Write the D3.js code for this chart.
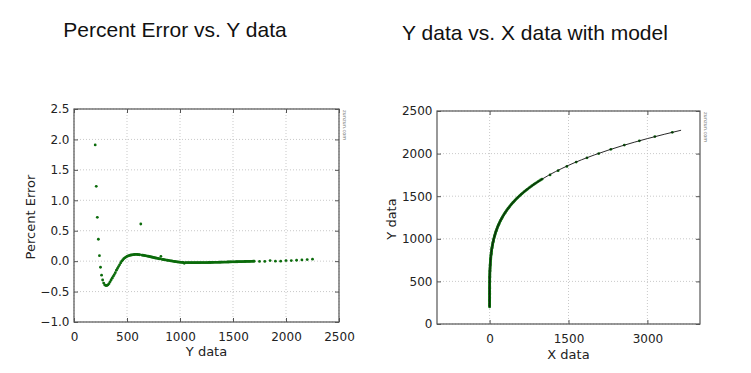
<!DOCTYPE html>
<html>
<head>
<meta charset="utf-8">
<script src="https://cdn.jsdelivr.net/npm/d3@7"></script>
<style>
html,body{margin:0;padding:0;background:#fff;}
svg{display:block;}
</style>
</head>
<body>
<svg id="chart" width="751" height="373"></svg>
<script>
// ---------- data ----------
const yData = [200,210,220,230,240,250,260,270,280,290,300,310,320,330,340,350,360,370,380,390,
400,410,420,430,440,450,460,470,480,490,500,510,520,530,540,550,560,570,580,590,
600,610,620,630,640,650,660,670,680,690,700,710,720,730,740,750,760,770,780,790,
800,810,820,830,840,850,860,870,880,890,900,910,920,930,940,950,960,970,980,990,
1000,1010,1020,1030,1040,1050,1060,1070,1080,1090,1100,1110,1120,1130,1140,1150,1160,1170,1180,1190,
1200,1210,1220,1230,1240,1250,1260,1270,1280,1290,1300,1310,1320,1330,1340,1350,1360,1370,1380,1390,
1400,1410,1420,1430,1440,1450,1460,1470,1480,1490,1500,1510,1520,1530,1540,1550,1560,1570,1580,1590,
1600,1610,1620,1630,1640,1650,1660,1670,1680,1690,1700,
1750,1800,1850,1900,1950,2000,2050,2100,2150,2200,2250];

const percentError = [1.91,1.23,0.72,0.36,0.09,-0.10,-0.23,-0.31,-0.36,-0.39,-0.40,-0.40,-0.39,-0.37,-0.34,-0.31,-0.28,-0.25,-0.22,-0.19,
-0.15,-0.12,-0.09,-0.06,-0.03,0.00,0.02,0.04,0.055,0.067,0.077,0.085,0.092,0.097,0.101,0.104,0.107,0.109,0.110,0.110,
0.109,0.107,0.105,0.61,0.100,0.097,0.094,0.090,0.087,0.083,0.080,0.076,0.072,0.068,0.064,0.060,0.056,0.052,0.048,0.044,
0.040,0.036,0.078,0.030,0.027,0.024,0.021,0.018,0.015,0.012,0.009,0.006,0.003,0.000,-0.003,-0.006,-0.009,-0.012,-0.014,-0.016,
-0.018,-0.020,-0.021,-0.022,-0.035,-0.024,-0.024,-0.025,-0.025,-0.025,-0.025,-0.025,-0.025,-0.025,-0.025,-0.025,-0.025,-0.025,-0.025,-0.025,
-0.024,-0.024,-0.024,-0.024,-0.023,-0.023,-0.023,-0.022,-0.022,-0.022,-0.021,-0.021,-0.020,-0.020,-0.020,-0.019,-0.019,-0.018,-0.018,-0.017,
-0.017,-0.016,-0.016,-0.015,-0.015,-0.014,-0.014,-0.013,-0.013,-0.012,-0.012,-0.011,-0.011,-0.010,-0.010,-0.009,-0.009,-0.008,-0.008,-0.007,
-0.007,-0.006,-0.006,-0.005,-0.005,-0.004,-0.004,-0.003,-0.003,-0.002,-0.002,
-0.005,-0.005,0.010,0.000,0.000,0.010,0.010,0.015,0.020,0.025,0.033];

const xData = [0,0,0,0,0,0,0,0,0,0,0.01,0.01,0.02,0.03,0.05,0.1,0.13,0.16,0.21,0.26,
0.32,0.38,0.46,0.55,0.65,0.77,0.9,1.05,1.21,1.39,1.59,1.82,2.06,2.33,2.63,2.95,3.31,3.69,4.1,4.55,
5.04,5.56,6.12,6.73,7.37,8.07,8.81,9.6,10.45,11.34,12.3,13.31,14.39,15.53,16.73,18.0,19.35,20.77,22.27,23.84,
25.5,27.24,29.08,31.0,33.01,35.13,37.34,39.65,42.07,44.6,47.24,50.0,52.88,55.88,59.0,62.26,65.64,69.17,72.83,76.64,
80.6,84.7,88.97,93.38,97.97,102.7,107.6,112.7,118.0,123.5,129.1,134.9,141.0,147.2,153.6,160.3,167.1,174.2,181.5,189.0,
196.8,204.8,213.0,221.5,230.2,239.2,248.4,257.9,267.7,277.8,288.1,298.7,309.6,320.8,332.3,344.1,356.3,368.7,381.5,394.6,
408.0,421.8,435.9,450.4,465.2,480.4,496.0,511.9,528.2,544.9,562.0,579.5,597.4,615.7,634.4,653.6,673.1,693.2,713.6,734.5,
755.9,777.7,800.0,822.8,846.1,869.8,894.1,918.8,944.1,969.8,996.1,
1149,1303,1469,1647,1852,2075,2305,2561,2848,3142,3473];

const modelX = [0,0.01,0.1,1,5,20,50,100,200,300,500,750,1000,1500,2000,2500,3000,3640];
const modelY = [200,284,350,467,599,765,910,1044,1204,1311,1463,1597,1701,1862,1986,2088,2176,2274];

const leftXTicks = [0,500,1000,1500,2000,2500];
const leftYTicks = [-1.0,-0.5,0.0,0.5,1.0,1.5,2.0,2.5];
const rightXTicks = [0,1500,3000];
const rightYTicks = [0,500,1000,1500,2000,2500];

// ---------- drawing ----------
const svg = d3.select("#chart");
const tickFont = "'DejaVu Sans', sans-serif";
const titleFont = "'Liberation Sans', Arial, sans-serif";
const axisColor = "#555";
const gridColor = "#bbb";
const dotColor = "#0b6b0b";

function panel(cfg) {
  const g = svg.append("g");
  const x = d3.scaleLinear().domain(cfg.xDomain).range([cfg.left, cfg.right]);
  const y = d3.scaleLinear().domain(cfg.yDomain).range([cfg.bottom, cfg.top]);

  g.append("g").selectAll("line").data(cfg.xTicks).join("line")
    .attr("x1", d => x(d)).attr("x2", d => x(d))
    .attr("y1", cfg.top).attr("y2", cfg.bottom)
    .attr("stroke", gridColor).attr("stroke-width", 0.8).attr("stroke-dasharray", "1,2");
  g.append("g").selectAll("line").data(cfg.yTicks).join("line")
    .attr("y1", d => y(d)).attr("y2", d => y(d))
    .attr("x1", cfg.left).attr("x2", cfg.right)
    .attr("stroke", gridColor).attr("stroke-width", 0.8).attr("stroke-dasharray", "1,2");

  const xAxis = d3.axisBottom(x).tickValues(cfg.xTicks).tickSize(-4).tickPadding(10).tickFormat(cfg.xFormat);
  const yAxis = d3.axisLeft(y).tickValues(cfg.yTicks).tickSize(-4).tickPadding(4.5).tickFormat(cfg.yFormat);
  const xTop = d3.axisTop(x).tickValues(cfg.xTicks).tickSize(-4).tickFormat("");
  const yRight = d3.axisRight(y).tickValues(cfg.yTicks).tickSize(-4).tickFormat("");

  const gx = g.append("g").attr("transform", `translate(0,${cfg.bottom})`).call(xAxis);
  const gy = g.append("g").attr("transform", `translate(${cfg.left},0)`).call(yAxis);
  const gxt = g.append("g").attr("transform", `translate(0,${cfg.top})`).call(xTop);
  const gyr = g.append("g").attr("transform", `translate(${cfg.right},0)`).call(yRight);
  [gx, gy, gxt, gyr].forEach(a => {
    a.select(".domain").remove();
    a.selectAll(".tick line").attr("stroke", axisColor).attr("stroke-width", 1);
    a.selectAll("text").attr("font-family", tickFont).attr("font-size", 12).attr("fill", "#222");
  });

  g.append("rect").attr("x", cfg.left).attr("y", cfg.top)
    .attr("width", cfg.right - cfg.left).attr("height", cfg.bottom - cfg.top)
    .attr("fill", "none").attr("stroke", axisColor).attr("stroke-width", 1.2);

  g.append("text").attr("x", (cfg.left + cfg.right) / 2).attr("y", cfg.xLabelY)
    .attr("text-anchor", "middle").attr("font-family", tickFont).attr("font-size", 13).attr("fill", "#222")
    .text(cfg.xLabel);
  g.append("text").attr("transform", `translate(${cfg.yLabelX},${(cfg.top + cfg.bottom) / 2 + 1.5}) rotate(-90)`)
    .attr("text-anchor", "middle").attr("font-family", tickFont).attr("font-size", 13).attr("fill", "#222")
    .text(cfg.yLabel);
  g.append("text").attr("x", cfg.titleX).attr("y", cfg.titleY)
    .attr("text-anchor", "middle").attr("font-family", titleFont).attr("font-size", 21).attr("fill", "#111")
    .text(cfg.title);
  g.append("text").attr("transform", `translate(${cfg.right + 4},${cfg.top + 1}) rotate(90)`)
    .attr("font-family", tickFont).attr("font-size", 5).attr("fill", "#777")
    .text("zunzun.com");
  return {g, x, y};
}

const L = panel({
  left: 74, right: 339, top: 109, bottom: 322,
  xDomain: [0, 2500], yDomain: [-1.0, 2.5],
  xTicks: leftXTicks, yTicks: leftYTicks,
  xFormat: d3.format("d"), yFormat: d3.format(".1f"),
  xLabel: "Y data", yLabel: "Percent Error",
  xLabelY: 355.5, yLabelX: 35,
  title: "Percent Error vs. Y data", titleX: 175, titleY: 37
});
L.g.append("g").selectAll("circle").data(yData.map((v, i) => [v, percentError[i]])).join("circle")
  .attr("cx", d => L.x(d[0])).attr("cy", d => L.y(d[1])).attr("r", 1.4).attr("fill", dotColor);

const R = panel({
  left: 437, right: 700, top: 111, bottom: 324,
  xDomain: [-1000, 4000], yDomain: [0, 2500],
  xTicks: rightXTicks, yTicks: rightYTicks,
  xFormat: d3.format("d"), yFormat: d3.format("d"),
  xLabel: "X data", yLabel: "Y data",
  xLabelY: 359, yLabelX: 396,
  title: "Y data vs. X data with model", titleX: 535, titleY: 40
});
R.g.append("g").selectAll("circle").data(xData.map((v, i) => [v, yData[i]])).join("circle")
  .attr("cx", d => R.x(d[0])).attr("cy", d => R.y(d[1])).attr("r", 1.4).attr("fill", dotColor);
R.g.append("path").datum(modelX.map((v, i) => [v, modelY[i]]))
  .attr("d", d3.line().x(d => R.x(d[0])).y(d => R.y(d[1])).curve(d3.curveMonotoneX))
  .attr("fill", "none").attr("stroke", "#111").attr("stroke-width", 0.9);
</script>
</body>
</html>
